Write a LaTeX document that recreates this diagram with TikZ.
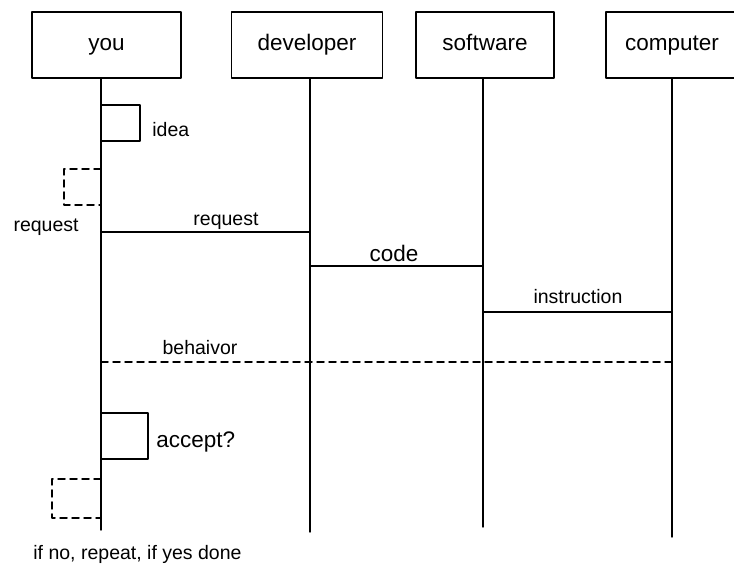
\documentclass[tikz,border=0pt]{standalone}
\usepackage{fontspec}
\setmainfont{Liberation Sans}

\begin{document}
\begin{tikzpicture}[line cap=round,line join=round,x=0.5pt,y=-0.5pt,
  actor/.style={draw,line width=0.8pt,minimum height=33pt,inner sep=0pt,
    text height=8.4pt,text depth=2.4pt,font=\fontsize{11.25}{13}\selectfont},
  msg/.style={line width=0.75pt},
  backmsg/.style={line width=0.75pt,dash pattern=on 3.5pt off 2.5pt},
  smalllbl/.style={inner sep=0pt,font=\fontsize{9.75}{12}\selectfont},
  biglbl/.style={inner sep=0pt,font=\fontsize{11.25}{13}\selectfont}]
\useasboundingbox (0,0) rectangle (734,565);
% the four actors
\node[actor,minimum width=74.5pt] (you) at (106.5,45) {you};
\node[actor,minimum width=75.5pt] (dev) at (307,45) {developer};
\node[actor,minimum width=69pt] (soft) at (485,45) {software};
\node[actor,minimum width=66pt] (comp) at (672,45) {computer};
% lifelines
\foreach \n/\x/\b in {you/101/530,dev/310/532,soft/483/527,comp/672/537}
  \draw[msg] (\n.south -| \x,0) -- (\x,\b) coordinate (\n-end);
% rows
\foreach \r/\y in {idea1/105,idea2/141,loop1/169,loop2/205,req/232,code/266,instr/312,behav/362,acc1/413,acc2/459,loop3/479,loop4/518}
  \coordinate (\r) at (0,\y);
% messages
\draw[msg] (you-end |- req) -- (dev-end |- req);
\draw[msg] (dev-end |- code) -- (soft-end |- code);
\draw[msg] (soft-end |- instr) -- (comp-end |- instr);
\draw[backmsg] (you-end |- behav) -- (comp-end |- behav);
% self messages
\draw[msg] (you-end |- idea1) -- ++(39,0) |- (you-end |- idea2);
\draw[msg] (you-end |- acc1) -- ++(47,0) |- (you-end |- acc2);
\draw[backmsg] (you-end |- loop1) -- ++(-37,0) |- (you-end |- loop2);
\draw[backmsg] (you-end |- loop3) -- ++(-49,0) |- (you-end |- loop4);
% labels
\draw (152,130) node[anchor=west,smalllbl] (idealbl) {idea};
\draw (79,227) node[anchor=east,smalllbl] (reqleft) {request};
\draw (226,221) node[smalllbl] (reqlbl) {request};
\draw (394,253) node[biglbl] (codelbl) {code};
\draw (578,297) node[smalllbl] (instrlbl) {instruction};
\draw (200,348) node[smalllbl] (behavlbl) {behaivor};
\draw (156,442) node[anchor=west,biglbl] (acclbl) {accept?};
\draw (33,554) node[anchor=west,smalllbl] (endlbl) {if no, repeat, if yes done};
\end{tikzpicture}
\end{document}
